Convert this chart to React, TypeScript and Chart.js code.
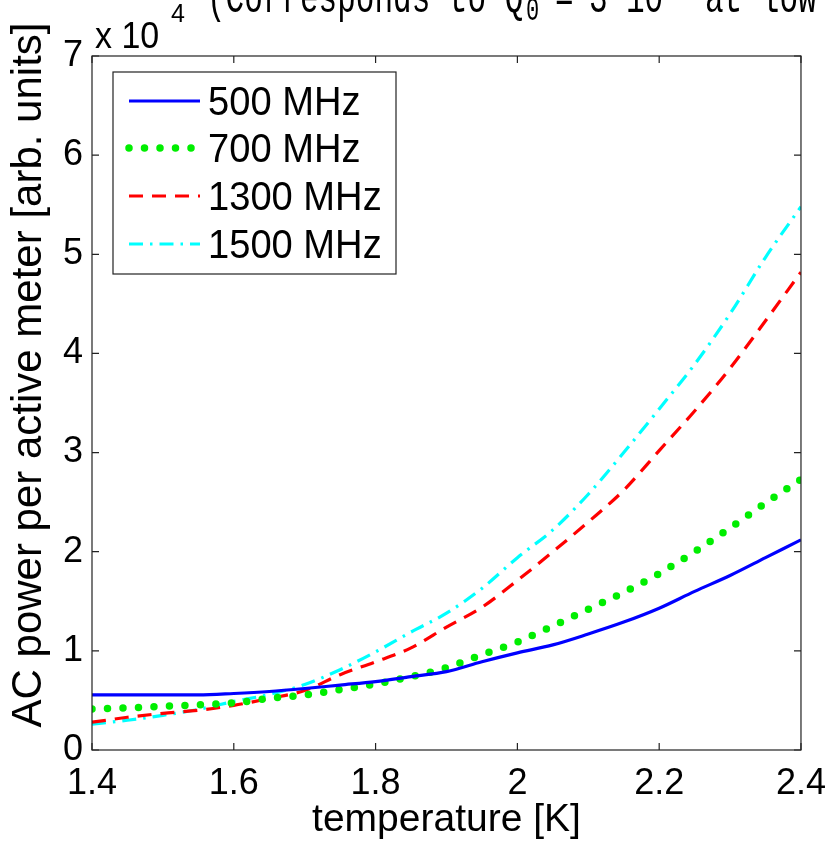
import { useEffect, useRef } from 'react';
import { Chart, registerables } from 'chart.js';

Chart.register(...registerables);

// temperature [K]
const temperatures = [1.4, 1.45, 1.5, 1.55, 1.6, 1.65, 1.7, 1.75, 1.8, 1.85, 1.9, 1.95, 2.0, 2.05, 2.1, 2.15, 2.2, 2.25, 2.3, 2.35, 2.4];
// AC power per active meter, in units of 10^4 (arb. units)
const power500 = [0.556, 0.556, 0.556, 0.556, 0.57, 0.59, 0.62, 0.655, 0.69, 0.74, 0.79, 0.89, 0.98, 1.06, 1.17, 1.29, 1.43, 1.6, 1.76, 1.94, 2.12];
const power700 = [0.414, 0.425, 0.44, 0.455, 0.475, 0.52, 0.555, 0.61, 0.665, 0.74, 0.83, 0.96, 1.09, 1.25, 1.42, 1.59, 1.78, 2.0, 2.24, 2.49, 2.73];
const power1300 = [0.28, 0.33, 0.37, 0.4, 0.45, 0.52, 0.6, 0.76, 0.89, 1.03, 1.24, 1.44, 1.71, 2.0, 2.3, 2.62, 3.02, 3.42, 3.85, 4.33, 4.82];
const power1500 = [0.26, 0.3, 0.35, 0.41, 0.49, 0.56, 0.66, 0.81, 0.99, 1.19, 1.38, 1.63, 1.94, 2.22, 2.58, 3.0, 3.44, 3.89, 4.4, 4.97, 5.48];

const seriesLabels = ['500 MHz', '700 MHz', '1300 MHz', '1500 MHz'];
const seriesColors = ['#0000ff', '#00ee00', '#ff0000', '#00ffff'];
const xTicks = [1.4, 1.6, 1.8, 2.0, 2.2, 2.4];
const yTicks = [0, 1, 2, 3, 4, 5, 6, 7];
const xTitle = 'temperature [K]';
const yTitle = 'AC power per active meter [arb. units]';
const yExponent = '4';
const noteParts = ['(Corresponds to Q', '0', '=', '3', '10', 'at low'];

const SANS = "'Liberation Sans', Arial, Helvetica, sans-serif";
const MONO = "'Liberation Mono', 'Courier New', monospace";

const styles = [
  { borderWidth: 3.2, borderDash: [] as number[], cap: 'butt' as CanvasLineCap },
  { borderWidth: 7.5, borderDash: [0, 15.5], cap: 'round' as CanvasLineCap },
  { borderWidth: 3.2, borderDash: [14, 9], cap: 'butt' as CanvasLineCap },
  { borderWidth: 3.2, borderDash: [14, 7, 2.5, 7], cap: 'butt' as CanvasLineCap },
];

const decorPlugin = {
  id: 'matlabDecor',
  afterDraw(chart: any) {
    const ctx: CanvasRenderingContext2D = chart.ctx;
    const { left, right, top, bottom } = chart.chartArea;
    const xs = chart.scales.x;
    const ys = chart.scales.y;
    ctx.save();
    // frame
    ctx.strokeStyle = '#222';
    ctx.lineWidth = 1.2;
    ctx.setLineDash([]);
    ctx.strokeRect(left, top, right - left, bottom - top);
    // inward ticks
    const tl = 7;
    ctx.beginPath();
    xTicks.forEach((v) => {
      const px = xs.getPixelForValue(v);
      ctx.moveTo(px, bottom);
      ctx.lineTo(px, bottom - tl);
      ctx.moveTo(px, top);
      ctx.lineTo(px, top + tl);
    });
    yTicks.forEach((v) => {
      const py = ys.getPixelForValue(v);
      ctx.moveTo(left, py);
      ctx.lineTo(left + tl, py);
      ctx.moveTo(right, py);
      ctx.lineTo(right - tl, py);
    });
    ctx.stroke();

    // y title
    ctx.fillStyle = '#000';
    ctx.font = `42px ${SANS}`;
    ctx.textAlign = 'center';
    ctx.textBaseline = 'middle';
    ctx.save();
    ctx.translate(29, 375);
    ctx.rotate(-Math.PI / 2);
    ctx.fillText(yTitle, 0, 0);
    ctx.restore();

    // x 10^4
    ctx.textAlign = 'left';
    ctx.textBaseline = 'alphabetic';
    ctx.save();
    ctx.font = `34px ${SANS}`;
    ctx.translate(95, 48);
    ctx.scale(1, 1.08);
    ctx.fillText('x 10', 0, 0);
    ctx.restore();
    ctx.font = `25px ${SANS}`;
    ctx.fillText(yExponent, 171, 22);

    // clipped note at top
    ctx.save();
    ctx.font = `31px ${MONO}`;
    ctx.translate(0, 12);
    ctx.scale(1, 1.5);
    ctx.fillText(noteParts[0], 207, 0);
    ctx.fillText(noteParts[2], 555, 0);
    ctx.fillText(noteParts[3], 589, 0);
    ctx.fillText(noteParts[4], 626, 0);
    ctx.fillText(noteParts[5], 705, 0);
    ctx.font = `22px ${MONO}`;
    ctx.fillText(noteParts[1], 526, 5.3);
    ctx.restore();

    // legend
    const lx = 113, ly = 72, lw = 283, lh = 202;
    ctx.fillStyle = '#fff';
    ctx.fillRect(lx, ly, lw, lh);
    ctx.strokeStyle = '#222';
    ctx.lineWidth = 1.2;
    ctx.strokeRect(lx, ly, lw, lh);
    const rows = [102, 149, 197, 245];
    seriesLabels.forEach((label, i) => {
      const st = styles[i];
      ctx.strokeStyle = seriesColors[i];
      ctx.lineWidth = st.borderWidth;
      ctx.lineCap = st.cap;
      ctx.setLineDash(st.borderDash);
      ctx.beginPath();
      ctx.moveTo(129, rows[i] - 1);
      ctx.lineTo(i === 1 ? 193 : 200, rows[i] - 1);
      ctx.stroke();
      ctx.setLineDash([]);
      ctx.fillStyle = '#000';
      ctx.save();
      ctx.font = `37px ${SANS}`;
      ctx.textBaseline = 'middle';
      ctx.translate(208, rows[i] + 2);
      ctx.scale(1.03, 1.08);
      ctx.fillText(label, 0, 0);
      ctx.restore();
    });
    ctx.restore();
  },
};

export default function App() {
  const ref = useRef<HTMLCanvasElement | null>(null);
  useEffect(() => {
    if (!ref.current) return;
    const series = [power500, power700, power1300, power1500];
    const chart = new Chart(ref.current, {
      type: 'line',
      data: {
        datasets: series.map((vals, i) => ({
          label: seriesLabels[i],
          data: temperatures.map((t, j) => ({ x: t, y: vals[j] })),
          borderColor: seriesColors[i],
          backgroundColor: seriesColors[i],
          borderWidth: styles[i].borderWidth,
          borderDash: styles[i].borderDash,
          borderCapStyle: styles[i].cap,
          pointRadius: 0,
          fill: false,
          cubicInterpolationMode: 'monotone' as const,
        })),
      },
      options: {
        responsive: false,
        animation: false,
        devicePixelRatio: 1,
        layout: { padding: { left: 0, top: 56, right: 30, bottom: 0 } },
        plugins: { legend: { display: false }, tooltip: { enabled: false }, title: { display: false } },
        scales: {
          x: {
            type: 'linear',
            min: 1.4,
            max: 2.4,
            grid: { display: false, drawTicks: false },
            border: { display: false },
            afterBuildTicks: (s: any) => { s.ticks = xTicks.map((v) => ({ value: v })); },
            afterFit: (s: any) => { s.height = 94; },
            ticks: {
              autoSkip: false,
              maxRotation: 0,
              padding: 12,
              color: '#000',
              font: { family: SANS, size: 36 },
              callback: (v: any) => String(Number(Number(v).toFixed(1))),
            },
            title: {
              display: true,
              text: xTitle,
              color: '#000',
              font: { family: SANS, size: 39 },
              padding: { top: 0, bottom: 0 },
            },
          },
          y: {
            type: 'linear',
            min: 0,
            max: 7,
            grid: { display: false, drawTicks: false },
            border: { display: false },
            afterBuildTicks: (s: any) => { s.ticks = yTicks.map((v) => ({ value: v })); },
            afterFit: (s: any) => { s.width = 92; },
            ticks: {
              padding: 9,
              color: '#000',
              font: { family: SANS, size: 36 },
              callback: (v: any) => String(v),
            },
          },
        },
      },
      plugins: [decorPlugin],
    });
    return () => chart.destroy();
  }, []);
  return (
    <div style={{ position: 'fixed', left: 0, top: 0, width: 838, height: 844, background: '#fff' }}>
      <canvas ref={ref} width={838} height={844} style={{ display: 'block', width: 838, height: 844 }} />
    </div>
  );
}
